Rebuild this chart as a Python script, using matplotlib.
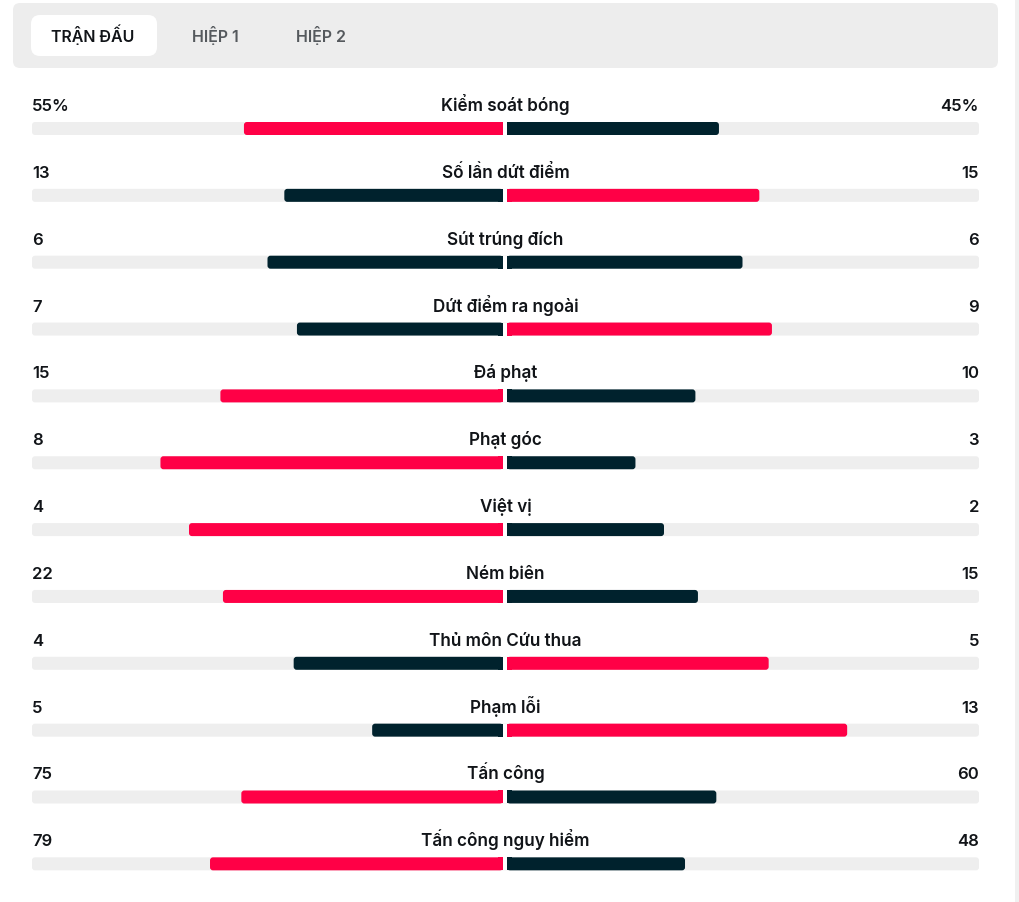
import matplotlib.pyplot as plt
from matplotlib.patches import FancyBboxPatch, Rectangle

# Match stats (home vs away)
stat_names = ["Kiểm soát bóng", "Số lần dứt điểm", "Sút trúng đích", "Dứt điểm ra ngoài",
              "Đá phạt", "Phạt góc", "Việt vị", "Ném biên", "Thủ môn Cứu thua",
              "Phạm lỗi", "Tấn công", "Tấn công nguy hiểm"]
home_vals = [55, 13, 6, 7, 15, 8, 4, 22, 4, 5, 75, 79]
away_vals = [45, 15, 6, 9, 10, 3, 2, 15, 5, 13, 60, 48]
suffixes = ["%", "", "", "", "", "", "", "", "", "", "", ""]
tabs = ["TRẬN ĐẤU", "HIỆP 1", "HIỆP 2"]

RED = "#ff0046"
DARK = "#00222d"
TRACK = "#eeeeee"
TEXT = "#111418"

plt.rcParams['font.family'] = ['Inter', 'DejaVu Sans']

W, H = 1019, 903
fig = plt.figure(figsize=(W / 100, H / 100), dpi=100)
ax = fig.add_axes([0, 0, 1, 1])
ax.set_xlim(0, W)
ax.set_ylim(H, 0)
ax.axis("off")


def rbox(x, y, w, h, r, color, z=1):
    p = FancyBboxPatch((x, y), w, h, boxstyle=f"round,pad=0,rounding_size={r}",
                       fc=color, ec="none", zorder=z)
    ax.add_patch(p)


# tab header
rbox(13, 4, 985, 65, 7, "#ededed")
rbox(31, 16, 126, 41, 9, "white", z=2)
tab_x = [93, 215, 321]
for i, (t, tx) in enumerate(zip(tabs, tab_x)):
    ax.text(tx, 42, t, ha="center", va="baseline", fontsize=11.5, fontweight="semibold",
            color=TEXT if i == 0 else "#55595d", zorder=3)

# scrollbar strip on the right edge
ax.add_patch(Rectangle((1015, 0), 4, H, fc="#f0f0f0", ec="none"))

left, right = 32, 979
mid_l, mid_r = 503, 507
half = mid_l - left
row0, step = 111, 66.85   # text baseline of first row, row spacing
bar_h = 13

for i, (name, hv, av) in enumerate(zip(stat_names, home_vals, away_vals)):
    ty = row0 + step * i
    by = ty + 12
    ax.text(left, ty, f"{hv}{suffixes[i]}", ha="left", va="baseline", fontsize=12,
            fontweight="semibold", color=TEXT)
    ax.text(right, ty, f"{av}{suffixes[i]}", ha="right", va="baseline", fontsize=12,
            fontweight="semibold", color=TEXT)
    ax.text((left + right) / 2, ty, name, ha="center", va="baseline", fontsize=12.3,
            fontweight="semibold", color=TEXT)

    # background track
    rbox(left, by, right - left, bar_h, 3, TRACK)

    total = hv + av
    hl = half * hv / total
    al = half * av / total
    hc = RED if hv > av else DARK
    ac = RED if av > hv else DARK
    # home bar grows left from the middle
    rbox(mid_l - hl, by, hl, bar_h, 3, hc, z=2)
    ax.add_patch(Rectangle((mid_l - 5, by), 5, bar_h, fc=hc, ec="none", zorder=2))
    # away bar grows right
    rbox(mid_r, by, al, bar_h, 3, ac, z=2)
    ax.add_patch(Rectangle((mid_r, by), 5, bar_h, fc=ac, ec="none", zorder=2))
    ax.add_patch(Rectangle((mid_l, by), mid_r - mid_l, bar_h, fc="white", ec="none", zorder=3))

fig.savefig("out.png", dpi=100)
